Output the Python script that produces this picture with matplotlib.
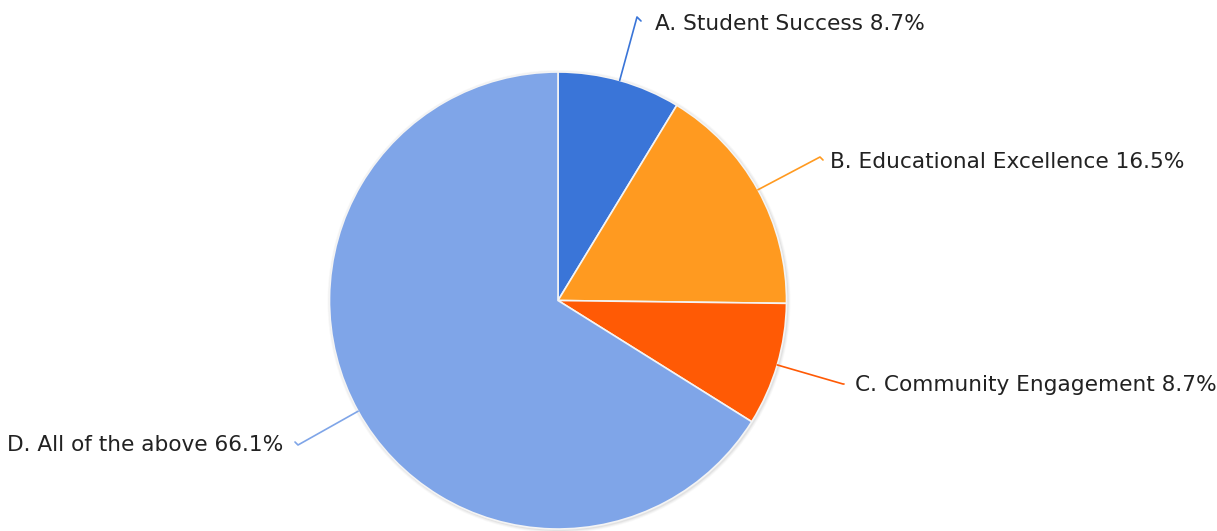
import matplotlib.pyplot as plt
import numpy as np

labels = ["A. Student Success", "B. Educational Excellence",
          "C. Community Engagement", "D. All of the above"]
shares = [8.7, 16.5, 8.7, 66.1]
colors = ["#3a75d8", "#ff9a20", "#ff5a05", "#7fa5e8"]

W, H = 1217, 531
cx, cy, R = 558, H - 300.5, 228.5

# label anchor points (pixel layout) and text offsets from them
label_pos = [(637, H - 17), (820, H - 157), (843, H - 384), (298, H - 445)]
text_off = [(18, -7), (10, -5), (12, -1), (-15, 0)]
hooks = [(4, -4), (3, -3), (1, 0), (-3, 3)]

fig = plt.figure(figsize=(W / 100, H / 100), dpi=100)
ax = fig.add_axes([0, 0, 1, 1])

# soft shadow ring
for i, a in enumerate([0.05, 0.08, 0.12]):
    ax.add_patch(plt.Circle((cx + 1, cy - 1), R + 3 - i, color="#888888", alpha=a, lw=0))

wedges, _ = ax.pie(shares, colors=colors, startangle=90, counterclock=False,
                   center=(cx, cy), radius=R, frame=True,
                   wedgeprops=dict(edgecolor="#f4f4f4", linewidth=1.2))
ax.set_xlim(0, W)
ax.set_ylim(0, H)
ax.set_aspect("equal")
ax.axis("off")

for w, lab, val, col, (lx, ly), (ox, oy), (hx, hy) in zip(
        wedges, labels, shares, colors, label_pos, text_off, hooks):
    mid = np.deg2rad((w.theta1 + w.theta2) / 2)
    ex, ey = cx + R * np.cos(mid), cy + R * np.sin(mid)
    ax.plot([ex, lx, lx + hx], [ey, ly, ly + hy], color=col, lw=1.2,
            solid_capstyle="round")
    right = ox > 0
    ax.text(lx + ox, ly + oy, f"{lab} {val}%", fontsize=15.6, color="#222222",
            ha="left" if right else "right", va="center", family="DejaVu Sans")

fig.savefig("out.png", dpi=100)
